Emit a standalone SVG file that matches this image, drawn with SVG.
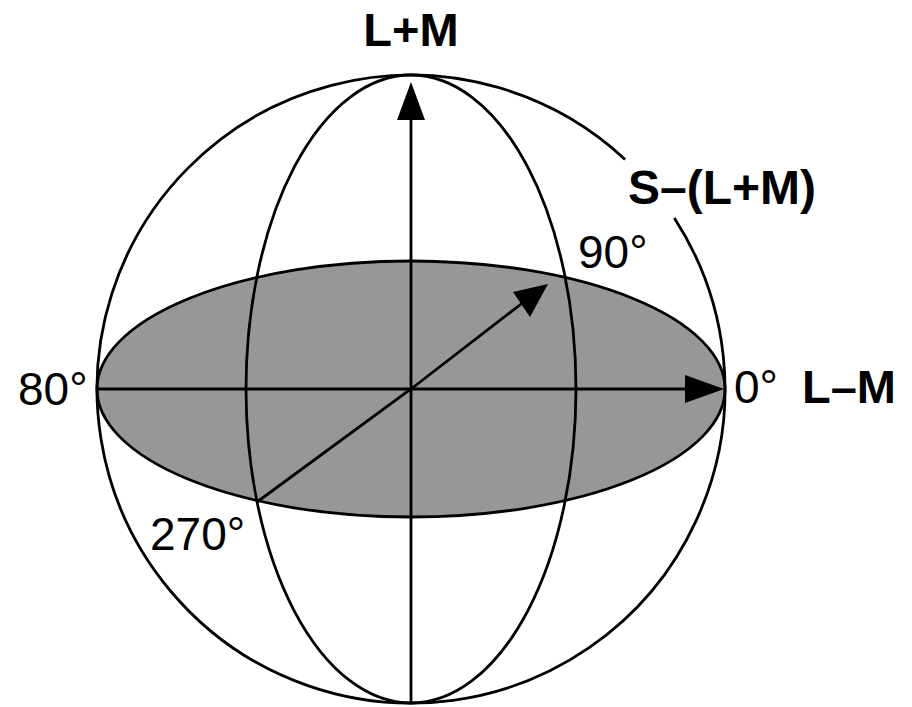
<svg xmlns="http://www.w3.org/2000/svg" width="912" height="707" viewBox="0 0 912 707">
<style>
.ln{fill:none;stroke:#000;stroke-width:2.8}
.lbl{font-family:"Liberation Sans",Arial,sans-serif;font-size:46px;fill:#000}
.b{font-weight:bold;font-size:47px}
.ah{fill:#000;stroke:none}
</style>
<rect width="912" height="707" fill="#fff"/>
<g id="equator">
<ellipse cx="411" cy="389" rx="314" ry="128" fill="#979797" stroke="#000" stroke-width="2.8"/>
</g>
<g id="meridian">
<ellipse class="ln" cx="411" cy="389" rx="165" ry="314"/>
</g>
<g id="sphere">
<path class="ln" d="M674.3,218 A314,314 0 1 1 625.1,159.4"/>
</g>
<g id="connectors">
<line class="ln" x1="411" y1="704" x2="411" y2="110"/>
<polygon class="ah" points="411,82 397,120 425,120"/>
<line class="ln" x1="97" y1="389" x2="695" y2="389"/>
<polygon class="ah" points="724,389 685,375 685,403"/>
<polyline class="ln" points="257,502 411,389 525,301"/>
<polygon class="ah" points="548,284 513,292 530,317"/>
</g>
<g id="labels">
<text class="lbl b" x="411" y="46" text-anchor="middle">L+M</text>
<text class="lbl b" x="628" y="204" style="font-size:48px">S–(L+M)</text>
<text class="lbl" x="578" y="268">90°</text>
<text class="lbl" x="18" y="405">80°</text>
<text class="lbl" x="734" y="403">0°</text>
<text class="lbl b" x="802" y="403">L–M</text>
<text class="lbl" x="150" y="550">270°</text>
</g>
</svg>
